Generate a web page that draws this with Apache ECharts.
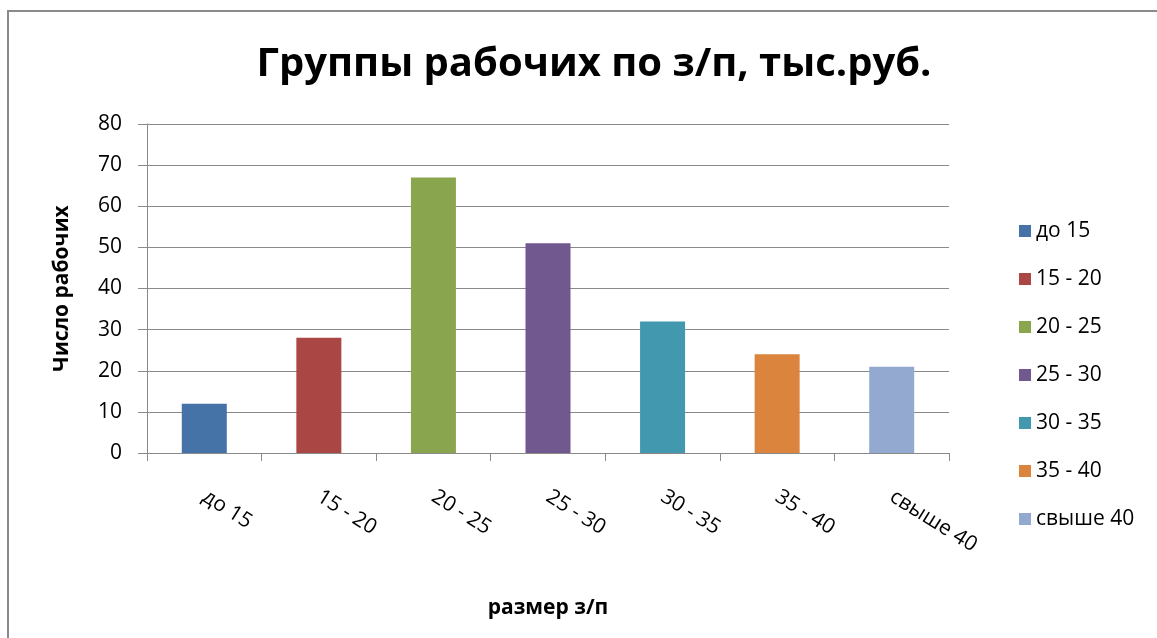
<!DOCTYPE html>
<html>
<head>
<meta charset="utf-8">
<script src="https://cdn.jsdelivr.net/npm/echarts@6/dist/echarts.min.js"></script>
<style>
html,body{margin:0;padding:0;background:#fff;}
#c{width:1157px;height:638px;}
</style>
</head>
<body>
<div id="c"></div>
<script>
const categories = ['до 15', '15 - 20', '20 - 25', '25 - 30', '30 - 35', '35 - 40', 'свыше 40'];
const values = [12, 28, 67, 51, 32, 24, 21];
const colors = ['#4572A7', '#AA4643', '#89A54E', '#71588F', '#4198AF', '#DB843D', '#93A9CF'];
const yTicks = [0, 10, 20, 30, 40, 50, 60, 70, 80];
const titleText = 'Группы рабочих по з/п, тыс.руб.';
const xName = 'размер з/п';
const yName = 'Число рабочих';

const FONT = '"Open Sans", "Noto Sans", sans-serif';
const chart = echarts.init(document.getElementById('c'), null, {renderer: 'canvas'});

const series = categories.map((c, i) => ({
  name: c,
  type: 'bar',
  barWidth: 45,
  barGap: '-100%',
  itemStyle: {color: colors[i]},
  data: categories.map((_, j) => j === i ? values[i] : null)
}));

chart.setOption({
  animation: false,
  backgroundColor: '#fff',
  color: colors,
  graphic: [{
    type: 'rect',
    shape: {x: 8, y: 11, width: 1300, height: 800},
    style: {fill: 'none', stroke: '#8a8a8a', lineWidth: 2},
    silent: true
  }],
  title: {
    text: titleText,
    left: 589,
    textAlign: 'center',
    top: 40,
    textStyle: {fontFamily: FONT, fontSize: 40, fontWeight: 'bold', color: '#000'}
  },
  legend: {
    orient: 'vertical',
    left: 1014,
    top: 215,
    itemWidth: 12,
    itemHeight: 12,
    itemGap: 26,
    icon: 'rect',
    data: categories,
    textStyle: {fontFamily: FONT, fontSize: 21, lineHeight: 22, color: '#000', padding: [0, 0, 0, 0]}
  },
  grid: {left: 147, right: 208, top: 124, height: 329},
  xAxis: {
    type: 'category',
    data: categories,
    name: xName,
    nameLocation: 'middle',
    nameGap: 145,
    nameTextStyle: {fontFamily: FONT, fontSize: 21, fontWeight: 'bold', color: '#000'},
    axisLine: {lineStyle: {color: '#8a8a8a', width: 1}},
    axisTick: {show: true, length: 8, lineStyle: {color: '#8a8a8a'}},
    axisLabel: {rotate: -32, margin: 42, fontFamily: FONT, fontSize: 21, color: '#000'}
  },
  yAxis: {
    type: 'value',
    min: 0,
    max: 80,
    interval: 10,
    name: yName,
    nameLocation: 'middle',
    nameGap: 74,
    nameTextStyle: {fontFamily: FONT, fontSize: 21, fontWeight: 'bold', color: '#000'},
    axisLine: {show: true, lineStyle: {color: '#8a8a8a', width: 1}},
    axisTick: {show: true, length: 9, lineStyle: {color: '#8a8a8a'}},
    splitLine: {show: true, lineStyle: {color: '#8a8a8a', width: 1}},
    axisLabel: {margin: 25, fontFamily: FONT, fontSize: 21, color: '#000',
      formatter: v => yTicks.includes(v) ? String(v) : ''}
  },
  series: series
});
</script>
</body>
</html>
